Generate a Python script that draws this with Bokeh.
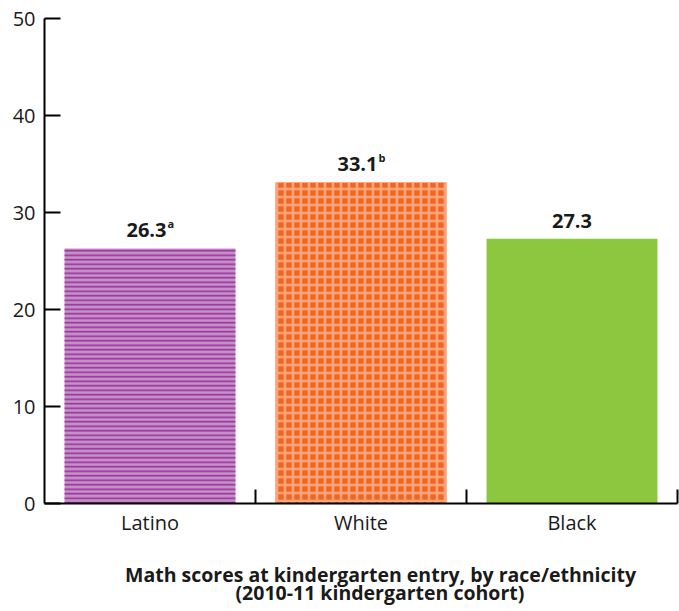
from bokeh.plotting import figure
from bokeh.models import Range1d, FixedTicker, ColumnDataSource, Title
from bokeh.core.properties import value
from bokeh.embed import file_html
from bokeh.resources import INLINE

categories = ["Latino", "White", "Black"]
scores = [26.3, 33.1, 27.3]
score_labels = ["26.3", "33.1", "27.3"]
superscripts = ["a", "b", ""]
y_ticks = [0, 10, 20, 30, 40, 50]
title_lines = ["Math scores at kindergarten entry, by race/ethnicity",
               "(2010-11 kindergarten cohort)"]

FONT = "Open Sans"
TEXT_COLOR = "#1a1a1a"

n = len(categories)
centers = [i + 0.5 for i in range(n)]
bounds = [i + 1 for i in range(n)]

p = figure(width=679, height=611, output_backend="svg", toolbar_location=None,
           x_range=Range1d(0, n), y_range=Range1d(0, 50),
           min_border_left=44, min_border_right=2, min_border_top=18,
           min_border_bottom=108)
p.outline_line_color = None
p.xgrid.visible = False
p.ygrid.visible = False
p.background_fill_color = "white"
p.border_fill_color = "white"

w = 0.81
p.vbar(x=[centers[0]], top=[scores[0]], width=w, bottom=0,
       fill_color="#c690ca", line_color=None,
       hatch_pattern="horizontal_line", hatch_color="#963296",
       hatch_scale=4.5, hatch_weight=1.6)
p.vbar(x=[centers[1]], top=[scores[1]], width=w, bottom=0,
       fill_color="#f26522", line_color=None,
       hatch_pattern="cross", hatch_color="#f9a47a",
       hatch_scale=8, hatch_weight=2.6)
p.vbar(x=[centers[2]], top=[scores[2]], width=w, bottom=0,
       fill_color="#8dc63f", line_color=None)

src = ColumnDataSource(dict(x=centers, y=scores, t=score_labels, s=superscripts))
src.data["xo"] = [-3.5 if s else 0 for s in superscripts]
p.text(x="x", y="y", text="t", source=src, x_offset="xo", y_offset=-11,
       text_align="center", text_baseline="bottom",
       text_font=value(FONT), text_font_style="bold", text_font_size="20px",
       text_color=TEXT_COLOR)
p.text(x="x", y="y", text="s", source=src, x_offset=17.5, y_offset=-17,
       text_align="left", text_baseline="bottom",
       text_font=value(FONT), text_font_style="bold", text_font_size="11px",
       text_color=TEXT_COLOR)

ya = p.yaxis[0]
ya.ticker = FixedTicker(ticks=y_ticks, minor_ticks=[])
ya.axis_line_width = 2
ya.axis_line_color = "black"
ya.major_tick_in = 16
ya.major_tick_out = 0
ya.major_tick_line_width = 2
ya.major_tick_line_color = "black"
ya.minor_tick_line_color = None
ya.major_label_standoff = 9
ya.major_label_text_font = FONT
ya.major_label_text_font_size = "20px"
ya.major_label_text_color = TEXT_COLOR

xa = p.xaxis[0]
xa.ticker = FixedTicker(ticks=centers, minor_ticks=bounds)
xa.major_label_overrides = {c: lab for c, lab in zip(centers, categories)}
xa.axis_line_width = 2
xa.axis_line_color = "black"
xa.major_tick_line_color = None
xa.major_tick_in = 0
xa.major_tick_out = 0
xa.minor_tick_in = 14
xa.minor_tick_out = 0
xa.minor_tick_line_width = 2
xa.minor_tick_line_color = "black"
xa.major_label_standoff = 5
xa.major_label_text_font = FONT
xa.major_label_text_font_size = "20px"
xa.major_label_text_color = TEXT_COLOR

spacer = Title(text=" ", standoff=0, text_font=FONT, text_font_size="17px")
t1 = Title(text=title_lines[0], align="left", offset=80.5, standoff=-8,
           vertical_align="middle", text_font=FONT, text_font_style="bold",
           text_font_size="19.5px", text_color=TEXT_COLOR)
t2 = Title(text=title_lines[1], align="left", offset=191, standoff=-13,
           vertical_align="middle", text_font=FONT, text_font_style="bold",
           text_font_size="19.5px", text_color=TEXT_COLOR)
p.add_layout(spacer, "below")
p.add_layout(t1, "below")
p.add_layout(t2, "below")

open("out.html", "w").write(file_html(p, INLINE))
